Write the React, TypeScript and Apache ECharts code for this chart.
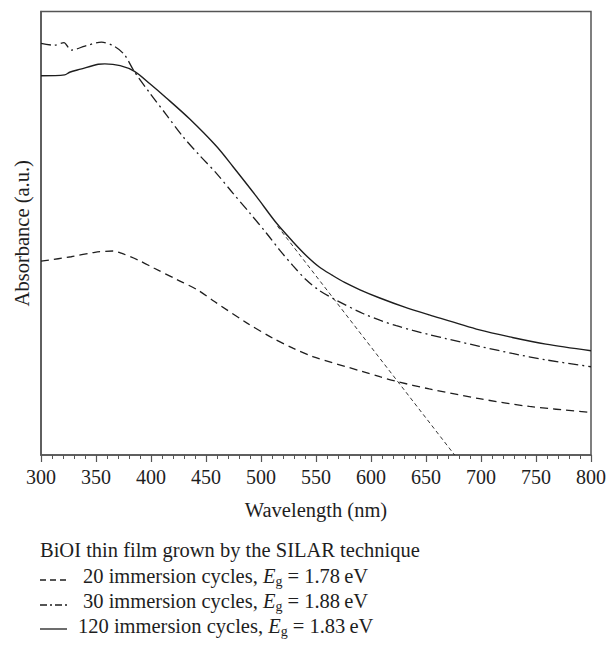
import React, { useEffect, useRef } from "react";
import * as echarts from "echarts";

const wl20 = [300, 327.5, 349, 365.4, 373, 388, 403, 424, 442.5, 457.7, 487, 511, 529, 547, 592.6, 608, 623, 653, 698.6, 744, 800];
const abs20 = [0.437, 0.447, 0.457, 0.460, 0.455, 0.440, 0.421, 0.395, 0.372, 0.346, 0.298, 0.263, 0.241, 0.222, 0.188, 0.1765, 0.166, 0.149, 0.127, 0.1095, 0.096];

const wl30 = [300, 312, 321, 323, 327.5, 340, 355, 367, 376, 385, 399, 414, 429, 444, 459.5, 474.6, 490, 505, 517, 529, 541, 553, 568.5, 592.6, 608, 623, 638, 653, 668, 698.6, 728.5, 759, 800];
const abs30 = [0.928, 0.924, 0.930, 0.925, 0.913, 0.922, 0.931, 0.921, 0.902, 0.864, 0.816, 0.767, 0.718, 0.676, 0.635, 0.590, 0.545, 0.500, 0.462, 0.427, 0.395, 0.371, 0.349, 0.319, 0.304, 0.2915, 0.281, 0.2715, 0.2625, 0.245, 0.229, 0.2145, 0.199];

const wl120 = [300, 321.5, 326, 336, 352, 358, 372, 385, 399, 414, 435, 459.5, 474.6, 495.8, 514, 529, 541, 553, 565, 576, 590, 608, 630, 653, 698.6, 728.5, 759, 800];
const abs120 = [0.855, 0.857, 0.863, 0.870, 0.881, 0.882, 0.878, 0.865, 0.837, 0.805, 0.758, 0.696, 0.650, 0.583, 0.523, 0.481, 0.450, 0.424, 0.405, 0.389, 0.3725, 0.354, 0.334, 0.316, 0.282, 0.265, 0.250, 0.235];

const wlTangent = [515, 676];
const absTangent = [0.516, 0];

const legendTitle = "BiOI thin film grown by the SILAR technique";
const legendCycles = ["20", "30", "120"];
const legendEg = ["1.78", "1.88", "1.83"];

const FONT = "'Liberation Serif', 'Times New Roman', serif";
const INK = "#1e1e1e";
const AXIS = "#555";

const pairs = (xs: number[], ys: number[]) => xs.map((x, i) => [x, ys[i]]);

export default function App() {
  const ref = useRef<HTMLDivElement>(null);
  useEffect(() => {
    if (!ref.current) return;
    const chart = echarts.init(ref.current, undefined, { renderer: "svg" });
    const legendDashes: (number[] | null)[] = [[6, 4], [7, 3, 2, 3], null];
    const rowY = [550, 576, 601, 626];
    const lineY = [580, 605, 629];
    const textX = [83, 83, 78];
    const FS = 20.5;
    const graphic: any[] = [
      {
        type: "text",
        x: 40,
        y: rowY[0],
        style: { text: legendTitle, font: `${FS}px ${FONT}`, fill: INK, verticalAlign: "middle", textAlign: "left" },
      },
    ];
    legendCycles.forEach((c, i) => {
      graphic.push({
        type: "line",
        shape: { x1: 40, y1: lineY[i], x2: 67, y2: lineY[i] },
        style: { stroke: INK, lineWidth: 1.3, lineDash: legendDashes[i] },
      });
      graphic.push({
        type: "text",
        x: textX[i],
        y: rowY[i + 1],
        style: {
          text: `{n|${c} immersion cycles, }{i|E}{s|g}{n| = ${legendEg[i]}\u2009eV}`,
          fill: INK,
          verticalAlign: "middle",
          textAlign: "left",
          rich: {
            n: { fontFamily: FONT, fontSize: FS, lineHeight: 25, verticalAlign: "middle", fill: INK },
            i: { fontFamily: FONT, fontSize: FS, fontStyle: "italic", lineHeight: 25, verticalAlign: "middle", fill: INK },
            s: { fontFamily: FONT, fontSize: 14, lineHeight: 14, verticalAlign: "bottom", fill: INK },
          },
        },
      });
    });

    chart.setOption({
      animation: false,
      grid: { left: 41, right: 17.3, top: 11.5, bottom: 195, show: true, borderColor: AXIS, borderWidth: 1.5 },
      xAxis: {
        type: "value",
        min: 300,
        max: 800,
        interval: 50,
        name: "Wavelength (nm)",
        nameLocation: "middle",
        nameGap: 44,
        nameTextStyle: { fontFamily: FONT, fontSize: FS, color: INK },
        axisLine: { show: true, lineStyle: { color: AXIS, width: 1.5 } },
        axisTick: { show: true, inside: false, length: 7, lineStyle: { color: AXIS, width: 1.2 } },
        minorTick: { show: true, splitNumber: 5, length: 4, lineStyle: { color: AXIS, width: 1 } },
        axisLabel: { fontFamily: FONT, fontSize: 20, color: INK, margin: 12 },
        splitLine: { show: false },
      },
      yAxis: {
        type: "value",
        min: 0,
        max: 1,
        name: "Absorbance (a.u.)",
        nameLocation: "middle",
        nameGap: 9,
        nameTextStyle: { fontFamily: FONT, fontSize: FS, color: INK },
        axisLine: { show: true, lineStyle: { color: AXIS, width: 1.5 } },
        axisTick: { show: false },
        axisLabel: { show: false },
        splitLine: { show: false },
      },
      series: [
        {
          name: "20 immersion cycles",
          type: "line",
          data: pairs(wl20, abs20),
          smooth: 0.3,
          showSymbol: false,
          lineStyle: { color: INK, width: 1.3, type: [8, 5] },
        },
        {
          name: "30 immersion cycles",
          type: "line",
          data: pairs(wl30, abs30),
          smooth: 0.3,
          showSymbol: false,
          lineStyle: { color: INK, width: 1.3, type: [10, 4, 2, 4] },
        },
        {
          name: "120 immersion cycles",
          type: "line",
          data: pairs(wl120, abs120),
          smooth: 0.3,
          showSymbol: false,
          lineStyle: { color: INK, width: 1.4, type: "solid" },
        },
        {
          name: "tangent",
          type: "line",
          data: pairs(wlTangent, absTangent),
          showSymbol: false,
          lineStyle: { color: INK, width: 0.9, type: [4, 3] },
        },
      ],
      graphic,
    });
    return () => chart.dispose();
  }, []);
  return <div ref={ref} style={{ position: "absolute", left: 0, top: 0, width: 609, height: 650, background: "#fff" }} />;
}
